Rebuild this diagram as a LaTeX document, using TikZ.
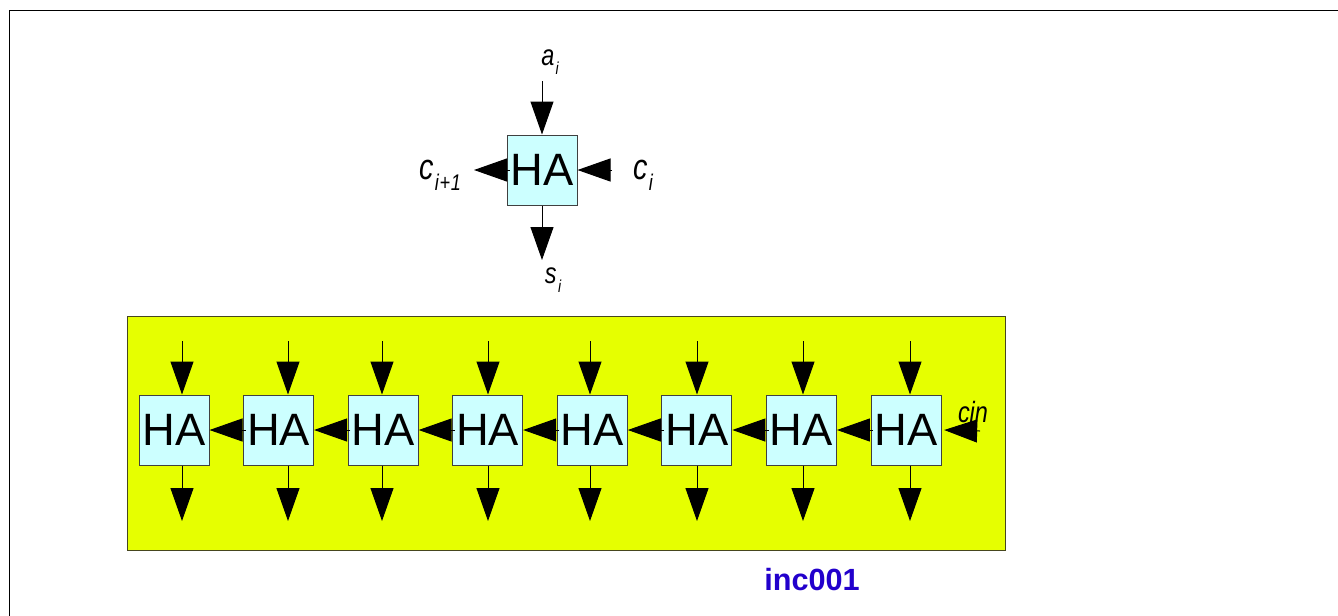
\documentclass[tikz,border=0pt]{standalone}
\usepackage{fontspec}
\setmainfont{Liberation Sans}
\newfontfamily\lblfont[FakeStretch=0.8]{Liberation Sans}
\usepackage{tikz}
\usetikzlibrary{arrows.meta,positioning}
\definecolor{IncYellow}{RGB}{230,255,0}
\definecolor{HaCyan}{RGB}{204,255,255}
\definecolor{IncEdge}{RGB}{70,70,30}
\definecolor{IncBlue}{RGB}{34,0,204}
\newcommand{\bitlbl}[3]{#1\kern1pt\raisebox{-0.3em}{\fontsize{#3}{#3}\selectfont #2}}

\begin{document}
\begin{tikzpicture}[x=0.75pt,y=-0.75pt,
    habox/.style={draw=black!75,fill=HaCyan,line width=0.75pt,
      minimum size=52.5pt,inner sep=0pt,font=\fontsize{34}{34}\selectfont},
    sig/.style={-{Triangle[length=24.75pt,width=17.25pt]},line width=0.75pt,draw=black},
    bitname/.style={inner sep=0pt,font=\lblfont\itshape\fontsize{22}{22}\selectfont}]
  \useasboundingbox (0,0) rectangle (1338,615);
  \draw[line width=1.1pt] (9.5,620) -- (9.5,10.5) -- (1345,10.5);
  % single half adder
  \node[habox] (ha) at (542,170) {HA};
  \coordinate (ain) at (542,81);
  \coordinate (cout) at (474,170);
  \coordinate (cinto) at (612,170);
  \coordinate (sout) at (542,260);
  \draw[sig] (ain) -- (ha.north);
  \draw[sig] ([xshift=2.5pt]ha.west) -- (cout);
  \draw[sig] (cinto) -- (ha.east);
  \draw[sig] (ha.south) -- (sout);
  \node[bitname] (lai) at (550,62) {\bitlbl{a}{i}{13}};
  \node[bitname,font=\lblfont\itshape\fontsize{27}{27}\selectfont] (lco) at (440,175) {\bitlbl{c}{i\kern0.5pt+\kern0.5pt1}{17}};
  \node[bitname,font=\lblfont\itshape\fontsize{27}{27}\selectfont] (lci) at (643,175) {\bitlbl{c}{i}{17}};
  \node[bitname] (lsi) at (553,280) {\bitlbl{s}{i}{13}};
  % incrementer chain
  \draw[draw=IncEdge,fill=IncYellow,line width=0.75pt] (127,316) rectangle (1005,550);
  \foreach \i/\ax in {1/182,2/288,3/382,4/488,5/590,6/697,7/803,8/910} {
    \node[habox] (h\i) at ({174+104.57*(\i-1)},430) {HA};
    \coordinate (t\i) at (\ax,341);
    \coordinate (b\i) at (\ax,521);
    \draw[sig] (t\i) -- (t\i |- h\i.north);
    \draw[sig] (b\i |- h\i.south) -- (b\i);
  }
  \foreach \i [evaluate=\i as \j using int(\i+1)] in {1,...,7}
    \draw[sig] ([xshift=2pt]h\j.west) -- (h\i.east);
  \coordinate (cin) at (980,431);
  \draw[sig] (cin) -- ([xshift=2pt]h8.east);
  \node[bitname] (lcin) at (973,412) {cin};
  \node[font=\bfseries\fontsize{23}{23}\selectfont,text=IncBlue] (name) at (812,580) {inc001};
\end{tikzpicture}
\end{document}
